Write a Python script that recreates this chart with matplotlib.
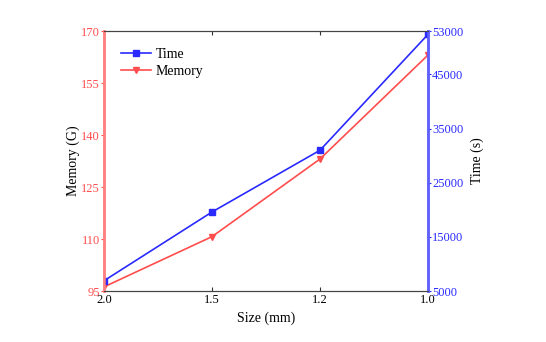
import matplotlib
matplotlib.use("Agg")
import matplotlib.pyplot as plt

sizes = ["2.0", "1.5", "1.2", "1.0"]
time_s = [6900, 19600, 31000, 52400]
memory_g = [96.2, 110.7, 133.1, 163.1]
mem_ticks = [95, 110, 125, 140, 155, 170]
time_ticks = [5000, 15000, 25000, 35000, 45000, 53000]

RED = "#ff4d4d"
BLUE = "#2a2aff"

plt.rcParams["font.family"] = ["Liberation Serif", "DejaVu Serif"]

fig = plt.figure(figsize=(5.46, 3.42), dpi=100)
ax = fig.add_axes([0.1905, 0.149, 0.5934, 0.760])
ax2 = ax.twinx()

x = list(range(len(sizes)))
l2, = ax.plot(x, memory_g, color=RED, marker="v", markersize=5, linewidth=1.2, label="Memory")
l1, = ax2.plot(x, time_s, color=BLUE, marker="s", markersize=4, linewidth=1.2, label="Time")

ax.set_xlim(0, 3)
ax.set_ylim(95, 170)
ax2.set_ylim(5000, 53000)
ax.set_xticks(x)
ax.set_xticklabels(sizes)
ax.set_yticks(mem_ticks)
ax2.set_yticks(time_ticks)

ax.tick_params(axis="x", direction="in", top=True, length=3, labelsize=9, pad=2, color="#333333")
ax.tick_params(axis="y", direction="out", colors=RED, length=2, labelsize=9, pad=1)
ax2.tick_params(axis="y", direction="out", colors=BLUE, length=2, labelsize=9, pad=1)

for a in (ax, ax2):
    a.spines["left"].set_color("#ff8080")
    a.spines["right"].set_color("#6060ff")
    a.spines["top"].set_color("#444444")
    a.spines["bottom"].set_color("#444444")
    a.spines["left"].set_linewidth(1.8)
    a.spines["right"].set_linewidth(1.8)

ax.set_xlabel("Size (mm)", fontsize=10, labelpad=4)
ax.set_ylabel("Memory (G)", fontsize=10, labelpad=1)
ax2.set_ylabel("Time (s)", fontsize=10, labelpad=5)

ax.legend([l1, l2], ["Time", "Memory"], loc="upper left", frameon=False, fontsize=10,
          handlelength=2.2, borderaxespad=0.8, labelspacing=0.3, handletextpad=0.3)

fig.savefig("out.png", dpi=100)
